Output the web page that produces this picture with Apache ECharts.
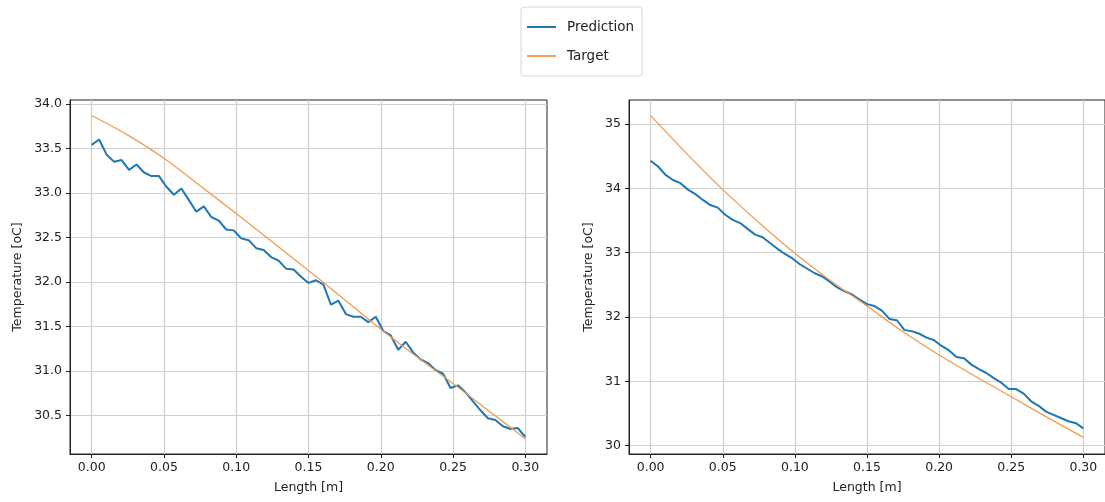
<!DOCTYPE html>
<html>
<head>
<meta charset="utf-8">
<script src="https://cdn.jsdelivr.net/npm/echarts@6/dist/echarts.min.js"></script>
<style>
html,body{margin:0;padding:0;background:#fff;}
#chart{width:1105px;height:502px;}
</style>
</head>
<body>
<div id="chart"></div>
<script>
// Sample positions along the length [m]
const xPos = [0, 0.00517, 0.01034, 0.01552, 0.02069, 0.02586, 0.03103, 0.03621, 0.04138, 0.04655,
  0.05172, 0.0569, 0.06207, 0.06724, 0.07241, 0.07759, 0.08276, 0.08793, 0.0931, 0.09828,
  0.10345, 0.10862, 0.11379, 0.11897, 0.12414, 0.12931, 0.13448, 0.13966, 0.14483, 0.15,
  0.15517, 0.16034, 0.16552, 0.17069, 0.17586, 0.18103, 0.18621, 0.19138, 0.19655, 0.20172,
  0.2069, 0.21207, 0.21724, 0.22241, 0.22759, 0.23276, 0.23793, 0.2431, 0.24828, 0.25345,
  0.25862, 0.26379, 0.26897, 0.27414, 0.27931, 0.28448, 0.28966, 0.29483, 0.3];

// Left panel prediction
const predLeft = [33.54, 33.60, 33.43, 33.35, 33.37, 33.26, 33.32, 33.23, 33.19, 33.19,
  33.07, 32.98, 33.05, 32.92, 32.79, 32.85, 32.73, 32.69, 32.59, 32.58,
  32.49, 32.47, 32.38, 32.36, 32.28, 32.24, 32.15, 32.14, 32.06, 31.99,
  32.02, 31.97, 31.745, 31.79, 31.64, 31.61, 31.61, 31.55, 31.61, 31.45,
  31.40, 31.24, 31.33, 31.21, 31.13, 31.09, 31.01, 30.97, 30.81, 30.84,
  30.76, 30.66, 30.56, 30.47, 30.45, 30.38, 30.35, 30.36, 30.26];

// Right panel prediction
const predRight = [34.43, 34.34, 34.21, 34.13, 34.08, 33.98, 33.91, 33.82, 33.74, 33.70,
  33.59, 33.51, 33.46, 33.37, 33.28, 33.24, 33.15, 33.06, 32.98, 32.91,
  32.82, 32.75, 32.68, 32.63, 32.55, 32.46, 32.40, 32.35, 32.27, 32.20,
  32.17, 32.10, 31.97, 31.95, 31.80, 31.78, 31.74, 31.68, 31.64, 31.55,
  31.48, 31.38, 31.36, 31.26, 31.19, 31.13, 31.05, 30.98, 30.88, 30.88,
  30.81, 30.69, 30.62, 30.53, 30.48, 30.43, 30.38, 30.35, 30.27];

// Targets
const targetX = [0, 0.025, 0.05, 0.075, 0.10, 0.125, 0.15, 0.175, 0.20, 0.225, 0.25, 0.275, 0.30];
const targetLeft = [33.87, 33.65, 33.39, 33.08, 32.77, 32.45, 32.13, 31.80, 31.47, 31.16, 30.86, 30.55, 30.24];
const targetRight = [35.13, 34.54, 33.98, 33.47, 32.99, 32.56, 32.17, 31.77, 31.41, 31.08, 30.76, 30.44, 30.13];

// Ticks
const xTicks = [0, 0.05, 0.10, 0.15, 0.20, 0.25, 0.30];
const yTicksLeft = [30.5, 31.0, 31.5, 32.0, 32.5, 33.0, 33.5, 34.0];
const yTicksRight = [30, 31, 32, 33, 34, 35];

const seriesNames = ['Prediction', 'Target'];
const FONT = 'DejaVu Sans';
const TXT = '#222';

function zip(xs, ys) { return xs.map((x, i) => [x, ys[i]]); }

function xAxisDef(gi) {
  return {
    type: 'value', gridIndex: gi, min: -0.015, max: 0.315,
    name: 'Length [m]', nameLocation: 'middle', nameGap: 27,
    nameTextStyle: { fontFamily: FONT, fontSize: 12.5, color: TXT },
    axisLine: { show: true, onZero: false, lineStyle: { color: '#222', width: 1 } },
    axisTick: { show: true, inside: false, length: 4, customValues: xTicks, lineStyle: { color: '#222' } },
    axisLabel: { customValues: xTicks, formatter: v => v.toFixed(2), margin: 7,
      fontFamily: FONT, fontSize: 12.5, color: TXT },
    splitLine: { show: true, lineStyle: { color: '#cfcfcf', width: 1.2 } }
  };
}
function yAxisDef(gi, min, max, ticks, dec, gap) {
  return {
    type: 'value', gridIndex: gi, min: min, max: max,
    name: 'Temperature [oC]', nameLocation: 'middle', nameGap: gap,
    nameTextStyle: { fontFamily: FONT, fontSize: 12.5, color: TXT },
    axisLine: { show: true, onZero: false, lineStyle: { color: '#222', width: 1 } },
    axisTick: { show: true, inside: false, length: 4, customValues: ticks, lineStyle: { color: '#222' } },
    axisLabel: { customValues: ticks, formatter: v => v.toFixed(dec), margin: 8,
      fontFamily: FONT, fontSize: 12.5, color: TXT },
    splitLine: { show: true, lineStyle: { color: '#cfcfcf', width: 1.2 } }
  };
}

const chart = echarts.init(document.getElementById('chart'), null, { renderer: 'canvas' });
chart.setOption({
  animation: false,
  backgroundColor: '#fff',
  legend: {
    data: seriesNames,
    orient: 'vertical', left: 521, top: 7,
    padding: [12, 8, 12, 6],
    itemGap: 13, itemWidth: 29, itemHeight: 2,
    icon: 'rect',
    borderColor: '#d8d8d8', borderWidth: 1, borderRadius: 3,
    textStyle: { fontFamily: FONT, fontSize: 13.5, color: TXT, lineHeight: 16, padding: [0, 0, 0, 6] }
  },
  grid: [
    { left: 70, top: 100, width: 477, height: 354, show: true, borderColor: '#222', borderWidth: 1, containLabel: false },
    { left: 629, top: 100, width: 479, height: 354, show: true, borderColor: '#222', borderWidth: 1, containLabel: false }
  ],
  xAxis: [xAxisDef(0), xAxisDef(1)],
  yAxis: [
    yAxisDef(0, 30.069, 34.044, yTicksLeft, 1, 46),
    yAxisDef(1, 29.871, 35.373, yTicksRight, 0, 34)
  ],
  series: [
    { name: seriesNames[0], type: 'line', xAxisIndex: 0, yAxisIndex: 0, data: zip(xPos, predLeft),
      showSymbol: false, color: '#1f77b4', lineStyle: { color: '#1f77b4', width: 2 } },
    { name: seriesNames[1], type: 'line', xAxisIndex: 0, yAxisIndex: 0, data: zip(targetX, targetLeft),
      showSymbol: false, smooth: 0.3, color: '#f5a25a', lineStyle: { color: '#f39c4f', width: 1.3 } },
    { name: seriesNames[0], type: 'line', xAxisIndex: 1, yAxisIndex: 1, data: zip(xPos, predRight),
      showSymbol: false, color: '#1f77b4', lineStyle: { color: '#1f77b4', width: 2 } },
    { name: seriesNames[1], type: 'line', xAxisIndex: 1, yAxisIndex: 1, data: zip(targetX, targetRight),
      showSymbol: false, smooth: 0.3, color: '#f5a25a', lineStyle: { color: '#f39c4f', width: 1.3 } }
  ]
});
</script>
</body>
</html>
